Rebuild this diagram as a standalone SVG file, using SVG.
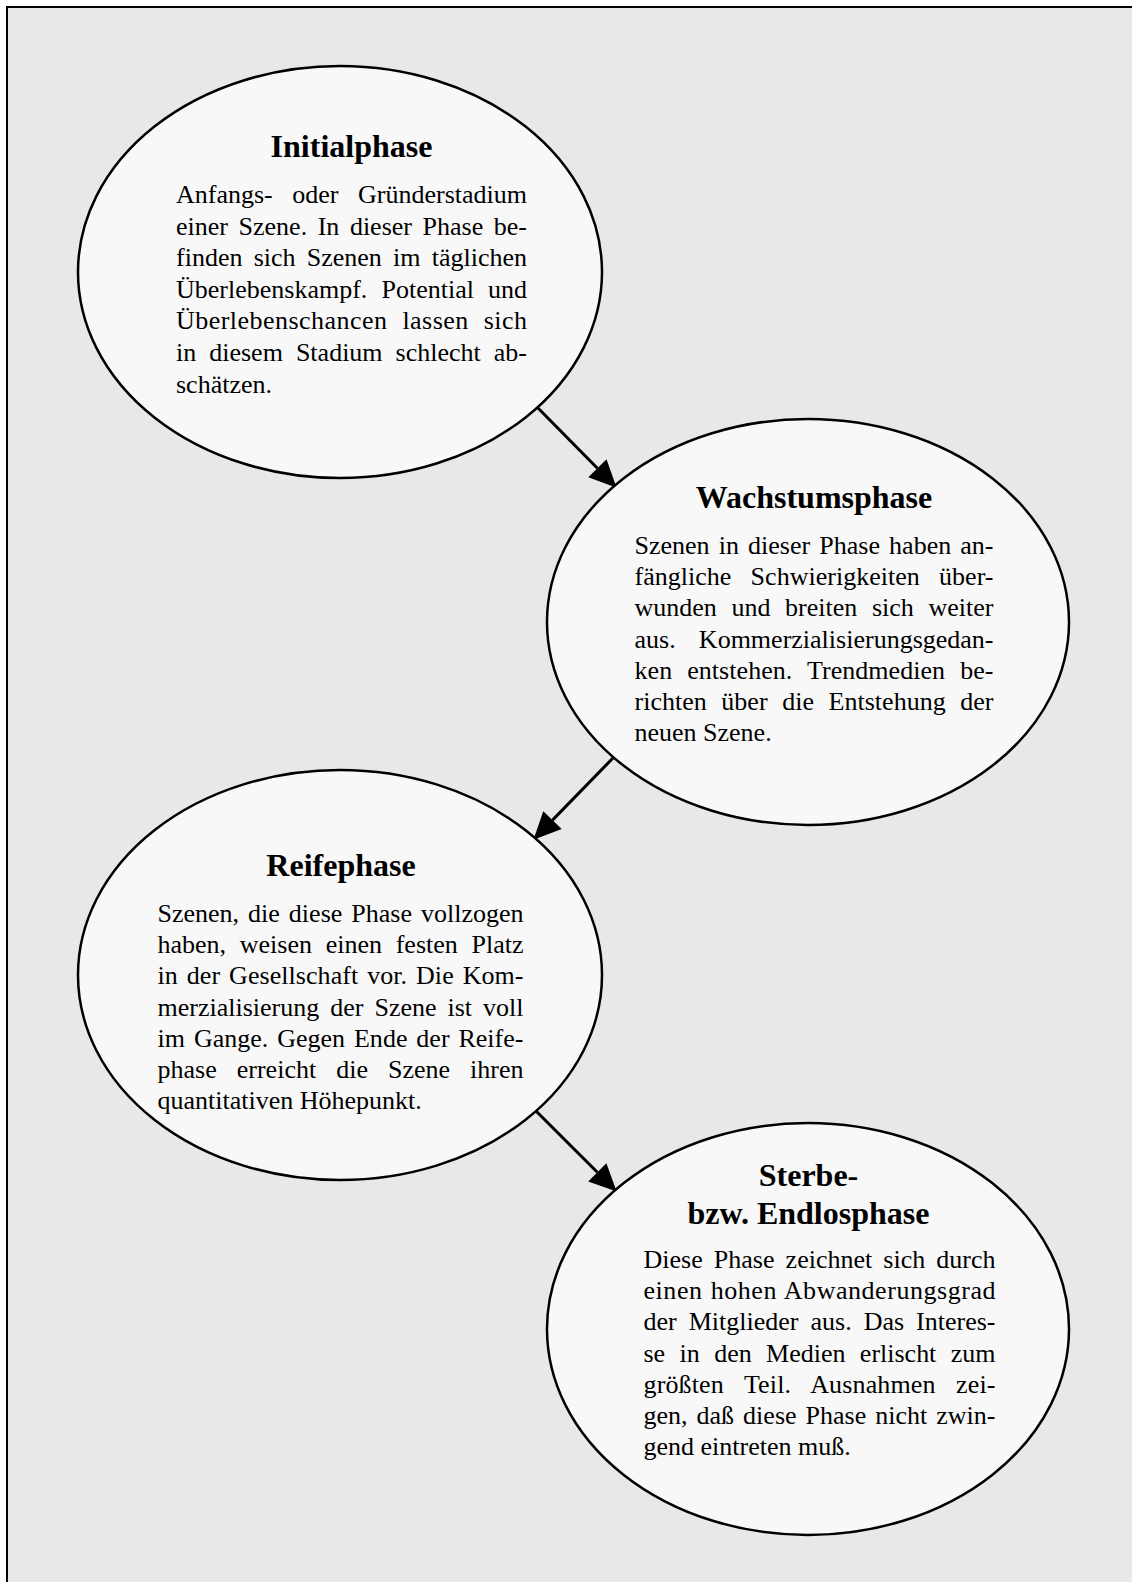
<svg xmlns="http://www.w3.org/2000/svg" width="1132" height="1582" viewBox="0 0 1132 1582">
<style>
.node ellipse{fill:#f8f8f8;stroke:#000;stroke-width:2.5}
.t{font-family:"Liberation Serif","Times New Roman",serif;font-weight:bold;font-size:32px;fill:#000;text-anchor:middle}
.b{font-family:"Liberation Serif","Times New Roman",serif;font-size:26px;fill:#000}
.edge{fill:none;stroke:#000;stroke-width:3}
</style>
<defs>
<marker id="ah" markerUnits="userSpaceOnUse" markerWidth="30" markerHeight="30" refX="0" refY="0" viewBox="-1 -13 28 26" orient="auto">
<path d="M0,-12 L25.5,0 L0,12 Z" fill="#000"/>
</marker>
</defs>
<rect x="7" y="7" width="1140" height="1590" fill="#e8e8e8" stroke="#000" stroke-width="2"/>
<g id="connectors">
<path class="edge" d="M535,405 L597.4,468.2" marker-end="url(#ah)"/>
<path class="edge" d="M613,758 L552.5,820.1" marker-end="url(#ah)"/>
<path class="edge" d="M535,1110 L597.3,1172.3" marker-end="url(#ah)"/>
</g>
<g id="initialphase" class="node">
<ellipse cx="340" cy="272" rx="262" ry="206"/>
<text class="t" x="351.5" y="157">Initialphase</text>
<text class="b" x="176" y="203" textLength="351" lengthAdjust="spacing" word-spacing="13">Anfangs- oder Gründerstadium</text>
<text class="b" x="176" y="234.6" textLength="351" lengthAdjust="spacing" word-spacing="4">einer Szene. In dieser Phase be-</text>
<text class="b" x="176" y="266.2" textLength="351" lengthAdjust="spacing" word-spacing="4.7">finden sich Szenen im täglichen</text>
<text class="b" x="176" y="297.8" textLength="351" lengthAdjust="spacing" word-spacing="7.6">Überlebenskampf. Potential und</text>
<text class="b" x="176" y="329.4" textLength="351" lengthAdjust="spacing" word-spacing="8">Überlebenschancen lassen sich</text>
<text class="b" x="176" y="361" textLength="351" lengthAdjust="spacing" word-spacing="6.5">in diesem Stadium schlecht ab-</text>
<text class="b" x="176" y="392.6">schätzen.</text>
</g>
<g id="wachstumsphase" class="node">
<ellipse cx="808" cy="622" rx="261" ry="203"/>
<text class="t" x="814" y="507.5">Wachstumsphase</text>
<text class="b" x="634.5" y="554" textLength="359" lengthAdjust="spacing" word-spacing="2.6">Szenen in dieser Phase haben an-</text>
<text class="b" x="634.5" y="585.2" textLength="359" lengthAdjust="spacing" word-spacing="12.7">fängliche Schwierigkeiten über-</text>
<text class="b" x="634.5" y="616.4" textLength="359" lengthAdjust="spacing" word-spacing="8.1">wunden und breiten sich weiter</text>
<text class="b" x="634.5" y="647.6" textLength="359" lengthAdjust="spacing" word-spacing="16.7">aus. Kommerzialisierungsgedan-</text>
<text class="b" x="634.5" y="678.8" textLength="359" lengthAdjust="spacing" word-spacing="8.5">ken entstehen. Trendmedien be-</text>
<text class="b" x="634.5" y="710" textLength="359" lengthAdjust="spacing" word-spacing="8.1">richten über die Entstehung der</text>
<text class="b" x="634.5" y="741.2">neuen Szene.</text>
</g>
<g id="reifephase" class="node">
<ellipse cx="340" cy="975" rx="262" ry="205"/>
<text class="t" x="341" y="876">Reifephase</text>
<text class="b" x="157.5" y="922" textLength="366" lengthAdjust="spacing" word-spacing="2.5">Szenen, die diese Phase vollzogen</text>
<text class="b" x="157.5" y="953.2" textLength="366" lengthAdjust="spacing" word-spacing="7.2">haben, weisen einen festen Platz</text>
<text class="b" x="157.5" y="984.4" textLength="366" lengthAdjust="spacing" word-spacing="2.4">in der Gesellschaft vor. Die Kom-</text>
<text class="b" x="157.5" y="1015.6" textLength="366" lengthAdjust="spacing" word-spacing="4.5">merzialisierung der Szene ist voll</text>
<text class="b" x="157.5" y="1046.8" textLength="366" lengthAdjust="spacing" word-spacing="2.4">im Gange. Gegen Ende der Reife-</text>
<text class="b" x="157.5" y="1078" textLength="366" lengthAdjust="spacing" word-spacing="13.5">phase erreicht die Szene ihren</text>
<text class="b" x="157.5" y="1109.2">quantitativen Höhepunkt.</text>
</g>
<g id="sterbephase" class="node">
<ellipse cx="808" cy="1329" rx="261" ry="206"/>
<text class="t" x="808.5" y="1185.5">Sterbe-</text>
<text class="t" x="808.5" y="1224">bzw. Endlosphase</text>
<text class="b" x="643.5" y="1268" textLength="352" lengthAdjust="spacing" word-spacing="4.6">Diese Phase zeichnet sich durch</text>
<text class="b" x="643.5" y="1299.2" textLength="352" lengthAdjust="spacing" word-spacing="1.2">einen hohen Abwanderungsgrad</text>
<text class="b" x="643.5" y="1330.4" textLength="352" lengthAdjust="spacing" word-spacing="5.5">der Mitglieder aus. Das Interes-</text>
<text class="b" x="643.5" y="1361.6" textLength="352" lengthAdjust="spacing" word-spacing="7.9">se in den Medien erlischt zum</text>
<text class="b" x="643.5" y="1392.8" textLength="352" lengthAdjust="spacing" word-spacing="13.8">größten Teil. Ausnahmen zei-</text>
<text class="b" x="643.5" y="1424" textLength="352" lengthAdjust="spacing" word-spacing="2.5">gen, daß diese Phase nicht zwin-</text>
<text class="b" x="643.5" y="1455.2">gend eintreten muß.</text>
</g>
</svg>
